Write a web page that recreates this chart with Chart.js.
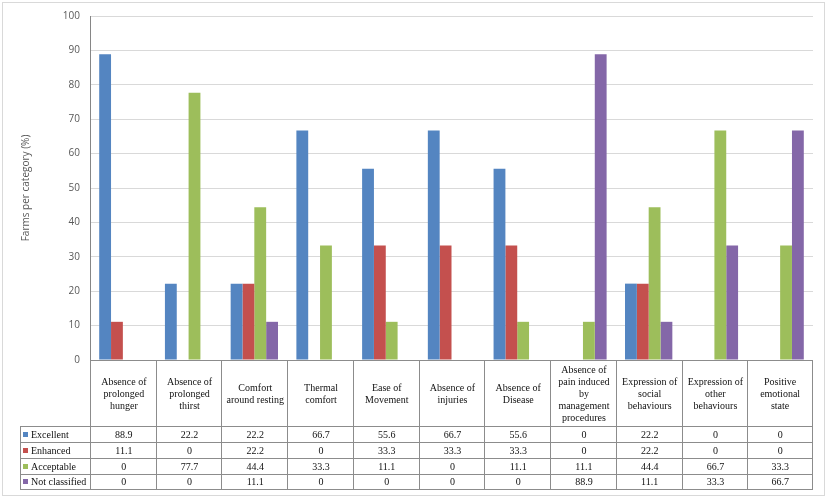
<!DOCTYPE html>
<html>
<head>
<meta charset="utf-8">
<script src="https://cdn.jsdelivr.net/npm/chart.js@4.4.1/dist/chart.umd.min.js"></script>
<style>
  html, body { margin: 0; padding: 0; background: #ffffff; }
  #wrap { position: relative; width: 827px; height: 498px; overflow: hidden; }
  #frame { position: absolute; left: 2px; top: 2px; width: 821px; height: 492px; border: 1px solid #D9D9D9; box-sizing: content-box; pointer-events: none; }
  #chart { position: absolute; left: 0; top: 0; }
  #table { position: absolute; left: 0; top: 0; width: 827px; height: 498px; font-family: "Liberation Serif", "DejaVu Serif", serif; font-size: 10px; color: #111; }
  .cell { position: absolute; box-sizing: border-box; display: flex; align-items: center; justify-content: center; text-align: center; line-height: 12px; white-space: nowrap; border-color: #8C8C8C; border-style: solid; border-width: 0; }
  .leg { justify-content: flex-start; }
  .mk { display: inline-block; width: 5px; height: 5px; margin-left: 2px; margin-right: 3px; }
</style>
</head>
<body>
<div id="wrap">
  <canvas id="chart" width="827" height="498"></canvas>
  <div id="table"></div>
  <div id="frame"></div>
</div>
<script>
const categories = [
  ["Absence of", "prolonged", "hunger"],
  ["Absence of", "prolonged", "thirst"],
  ["Comfort", "around resting"],
  ["Thermal", "comfort"],
  ["Ease of", "Movement"],
  ["Absence of", "injuries"],
  ["Absence of", "Disease"],
  ["Absence of", "pain induced", "by", "management", "procedures"],
  ["Expression of", "social", "behaviours"],
  ["Expression of", "other", "behaviours"],
  ["Positive", "emotional", "state"]
];
const seriesNames = ["Excellent", "Enhanced", "Acceptable", "Not classified"];
const excellent     = [88.9, 22.2, 22.2, 66.7, 55.6, 66.7, 55.6, 0, 22.2, 0, 0];
const enhanced      = [11.1, 0, 22.2, 0, 33.3, 33.3, 33.3, 0, 22.2, 0, 0];
const acceptable    = [0, 77.7, 44.4, 33.3, 11.1, 0, 11.1, 11.1, 44.4, 66.7, 33.3];
const notClassified = [0, 0, 11.1, 0, 0, 0, 0, 88.9, 11.1, 33.3, 66.7];
const yTicks = [0, 10, 20, 30, 40, 50, 60, 70, 80, 90, 100];
const yTitle = "Farms per category (%)";

const colors = ["#5485C1", "#C4504E", "#9DBE5B", "#8467A8"];
const seriesData = [excellent, enhanced, acceptable, notClassified];

const chart = new Chart(document.getElementById('chart'), {
  type: 'bar',
  data: {
    labels: categories.map(c => c.join(' ')),
    datasets: seriesNames.map((n, i) => ({
      label: n,
      data: seriesData[i],
      backgroundColor: colors[i],
      borderWidth: 0,
      categoryPercentage: 0.72,
      barPercentage: 1.0
    }))
  },
  options: {
    responsive: false,
    animation: false,
    layout: { padding: { left: 0, top: 14, right: 14, bottom: 138 } },
    plugins: { legend: { display: false }, tooltip: { enabled: false } },
    scales: {
      x: {
        ticks: { display: false },
        grid: { display: false },
        border: { display: false },
        afterFit: s => { s.height = 0; }
      },
      y: {
        min: 0, max: 100,
        afterBuildTicks: s => { s.ticks = yTicks.map(v => ({ value: v })); },
        afterFit: s => { s.width = 90; },
        ticks: { padding: 10, color: '#595959', font: { family: '"Open Sans", sans-serif', size: 10 } },
        grid: { color: '#D9D9D9', lineWidth: 1, drawTicks: false },
        border: { color: '#868686', width: 1 },
        title: { display: true, text: yTitle, color: '#595959', padding: { top: 20, bottom: 0 }, font: { family: '"Open Sans", sans-serif', size: 10 } }
      }
    }
  }
});

// Data table drawn under the plot, aligned with the x scale
(function buildTable() {
  const xs = chart.scales.x;
  const area = chart.chartArea;
  const n = categories.length;
  const bounds = [xs.left];
  for (let i = 0; i < n - 1; i++) {
    bounds.push((xs.getPixelForValue(i) + xs.getPixelForValue(i + 1)) / 2);
  }
  bounds.push(xs.right);
  const legLeft = 20;
  const top = area.bottom;
  const headH = 65.7;
  const rowH = 16;
  const t = document.getElementById('table');
  function cell(x, y, w, h, html, cls, b) {
    const d = document.createElement('div');
    d.className = 'cell' + (cls ? ' ' + cls : '');
    d.style.left = x + 'px'; d.style.top = y + 'px';
    d.style.width = w + 'px'; d.style.height = h + 'px';
    d.style.borderLeftWidth = b[0] + 'px';
    d.style.borderTopWidth = b[1] + 'px';
    d.style.borderRightWidth = b[2] + 'px';
    d.style.borderBottomWidth = b[3] + 'px';
    d.innerHTML = html;
    t.appendChild(d);
  }
  // header row
  for (let i = 0; i < n; i++) {
    const last = i === n - 1;
    cell(bounds[i], top, bounds[i + 1] - bounds[i] + (last ? 0 : 1), headH + 1,
      '<span>' + categories[i].join('<br>') + '</span>', '', [1, 1, last ? 1 : 0, 0]);
  }
  // data rows
  for (let r = 0; r < seriesNames.length; r++) {
    const y = top + headH + r * rowH;
    const lastRow = r === seriesNames.length - 1;
    const h = rowH + (lastRow ? 0 : 1);
    cell(legLeft, y, bounds[0] - legLeft + 1, h,
      '<span class="mk" style="background:' + colors[r] + '"></span><span>' + seriesNames[r] + '</span>', 'leg',
      [1, 1, 0, lastRow ? 1 : 0]);
    for (let i = 0; i < n; i++) {
      const last = i === n - 1;
      cell(bounds[i], y, bounds[i + 1] - bounds[i] + (last ? 0 : 1), h,
        String(seriesData[r][i]), '', [1, 1, last ? 1 : 0, lastRow ? 1 : 0]);
    }
  }
})();
</script>
</body>
</html>
